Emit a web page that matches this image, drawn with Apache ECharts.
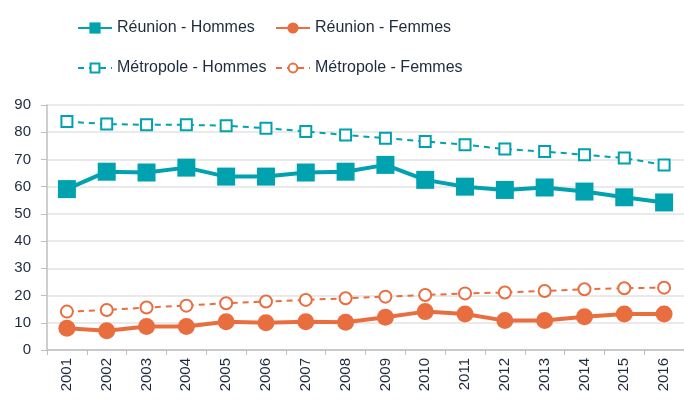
<!DOCTYPE html>
<html><head><meta charset="utf-8">
<script src="https://cdn.jsdelivr.net/npm/echarts@6/dist/echarts.min.js"></script>
<style>html,body{margin:0;padding:0;background:#fff}#c{width:684px;height:401px}</style>
</head><body><div id="c"></div>
<script>
const years = ['2001','2002','2003','2004','2005','2006','2007','2008','2009','2010','2011','2012','2013','2014','2015','2016'];
const reunionHommes = [59.1,65.5,65.2,67.0,63.7,63.7,65.2,65.5,68.0,62.5,60.0,58.8,59.7,58.2,56.1,54.2];
const reunionFemmes = [8.0,7.1,8.6,8.6,10.4,10.0,10.4,10.2,12.0,14.1,13.2,10.8,10.8,12.2,13.2,13.2];
const metroHommes = [83.9,83.0,82.7,82.7,82.4,81.5,80.3,79.0,77.8,76.6,75.4,73.8,72.9,71.7,70.5,68.0];
const metroFemmes = [14.1,14.7,15.6,16.3,17.2,17.8,18.4,19.0,19.6,20.2,20.8,21.1,21.7,22.3,22.7,22.9];
const yTicks = [0,10,20,30,40,50,60,70,80,90];

const teal = '#00A2AF', orange = '#E96E3F', txt = '#1E2B3C';
const font = 'Liberation Sans';
const chart = echarts.init(document.getElementById('c'));
function leg(name, left, top, h){
  return {data:[name], left:left, top:top, itemWidth:34, itemHeight:h, itemGap:0,
    textStyle:{fontFamily:font, fontSize:16, color:txt, padding:[0,0,0,0]}};
}
chart.setOption({
  animation:false,
  legend:[leg('Réunion - Hommes',72,15,14), leg('Réunion - Femmes',270,15,14), leg('Métropole - Hommes',72,55,11), leg('Métropole - Femmes',270,55,11)],
  grid:{left:47, right:-3, top:105, bottom:51},
  xAxis:{type:'category', data:years, boundaryGap:true,
    axisLine:{lineStyle:{color:'#BFBFBF', width:1.5}},
    axisTick:{show:true, length:5, lineStyle:{color:'#BFBFBF'}},
    axisLabel:{rotate:90, fontFamily:font, fontSize:15, color:txt, margin:8}},
  yAxis:{type:'value', min:0, max:90, interval:10,
    axisLine:{show:true, lineStyle:{color:'#BFBFBF', width:1.5}},
    axisTick:{show:true, length:6, lineStyle:{color:'#BFBFBF'}},
    splitLine:{lineStyle:{color:'#E3E3E3', width:1.5}},
    axisLabel:{fontFamily:font, fontSize:15, color:txt, margin:16,
      formatter:v=>yTicks.includes(v)?String(v):''}},
  series:[
    {name:'Réunion - Hommes', type:'line', data:reunionHommes, symbol:'rect', symbolSize:18,
      itemStyle:{color:teal}, lineStyle:{color:teal, width:4}},
    {name:'Réunion - Femmes', type:'line', data:reunionFemmes, symbol:'circle', symbolSize:17,
      itemStyle:{color:orange}, lineStyle:{color:orange, width:4}},
    {name:'Métropole - Hommes', type:'line', data:metroHommes, symbol:'rect', symbolSize:11,
      itemStyle:{color:'#fff', borderColor:teal, borderWidth:2}, lineStyle:{color:teal, width:2, type:[6,5]}},
    {name:'Métropole - Femmes', type:'line', data:metroFemmes, symbol:'circle', symbolSize:12,
      itemStyle:{color:'#fff', borderColor:orange, borderWidth:2}, lineStyle:{color:orange, width:2, type:[6,5]}}
  ]
});
</script></body></html>
